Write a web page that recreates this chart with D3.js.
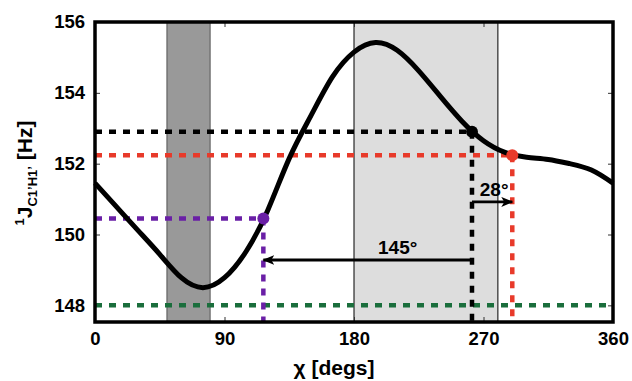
<!DOCTYPE html>
<html>
<head>
<meta charset="utf-8">
<script src="https://cdn.jsdelivr.net/npm/d3@7"></script>
<style>
body{margin:0;background:#fff;}
text{font-family:"Liberation Sans",Arial,sans-serif;font-weight:bold;}
</style>
</head>
<body>
<div class="chart"></div>
<script>
// curve, every 15 degrees
const chi = [0,15,30,45,60,75,90,105,120,135,150,165,180,195,210,225,240,255,270,285,300,315,330,345,360];
const coupling = [151.45,150.78,150.11,149.44,148.78,148.50,148.78,149.52,150.68,152.15,153.35,154.45,155.15,155.42,155.20,154.62,153.90,153.20,152.65,152.32,152.18,152.12,152.00,151.82,151.45];
// shaded regions
const bandStart = [50,180];
const bandEnd = [80,280];
// marked points
const markChi = [117,262,290];
const markJ = [150.45,152.90,152.24];
const greenJ = 148;
// arrows
const arrowFrom = [262,262];
const arrowTo = [117,290];
const arrowJ = [149.28,150.92];
const arrowLabel = ["145°","28°"];
const xTicks = [0,90,180,270,360];
const yTicks = [148,150,152,154,156];

const W = 632, H = 381;
const x = d3.scaleLinear().domain([0,360]).range([95,613]);
const y = d3.scaleLinear().domain([147.53,156]).range([322,22]);
const markColor = ["#6a1fa6","#000000","#e83a2a"];

const svg = d3.select(".chart").append("svg")
  .attr("width",W).attr("height",H);

svg.append("defs").append("marker")
  .attr("id","head")
  .attr("markerUnits","userSpaceOnUse")
  .attr("markerWidth",14).attr("markerHeight",12)
  .attr("refX",11).attr("refY",5)
  .attr("orient","auto")
  .append("path")
  .attr("d","M0,0 L12,5 L0,10 L3,5 Z")
  .attr("fill","#000");

// bands
bandStart.forEach((b,i)=>{
  svg.append("rect")
    .attr("x",x(b)).attr("y",y(156))
    .attr("width",x(bandEnd[i])-x(b))
    .attr("height",y(147.53)-y(156))
    .attr("fill", i==0 ? "#999999" : "#dddddd")
    .attr("stroke", i==0 ? "#555" : "#000")
    .attr("stroke-width",1);
});

// ticks
let yAxis = d3.axisLeft(y).tickValues(yTicks).tickSize(-5).tickPadding(10);
let gy = svg.append("g").attr("transform","translate(95,0)").call(yAxis);
let xAxis = d3.axisBottom(x).tickValues(xTicks).tickSize(-5).tickPadding(10);
let gx = svg.append("g").attr("transform","translate(0,322)").call(xAxis);
svg.append("g").attr("transform","translate(613,0)")
  .call(d3.axisRight(y).tickValues(yTicks).tickSize(-5).tickFormat(""));
svg.append("g").attr("transform","translate(0,22)")
  .call(d3.axisTop(x).tickValues(xTicks).tickSize(-5).tickFormat(""));
svg.selectAll(".domain").remove();
svg.selectAll(".tick line").attr("stroke","#333").attr("stroke-width",1);
svg.selectAll(".tick text").attr("font-size",18.5).attr("fill","#000")
  .style("font-family","Liberation Sans, Arial, sans-serif").style("font-weight","bold");

// dashed guides
const dash = "7,7";
svg.append("line")
  .attr("x1",x(0)).attr("x2",x(360))
  .attr("y1",y(greenJ)).attr("y2",y(greenJ))
  .attr("stroke","#1a6e3c").attr("stroke-width",4.5).attr("stroke-dasharray",dash);
markChi.forEach((c,i)=>{
  svg.append("line")
    .attr("x1",x(0)).attr("x2",x(c))
    .attr("y1",y(markJ[i])).attr("y2",y(markJ[i]))
    .attr("stroke",markColor[i]).attr("stroke-width",4.5).attr("stroke-dasharray",dash);
  svg.append("line")
    .attr("x1",x(c)).attr("x2",x(c))
    .attr("y1",y(markJ[i])).attr("y2",y(147.53))
    .attr("stroke",markColor[i]).attr("stroke-width",4.5).attr("stroke-dasharray",dash);
});

// curve
const line = d3.line()
  .x((d,i)=>x(chi[i])).y(d=>y(d))
  .curve(d3.curveNatural);
svg.append("path")
  .attr("d",line(coupling))
  .attr("fill","none").attr("stroke","#000").attr("stroke-width",5)
  .attr("stroke-linejoin","round");

// points
markChi.forEach((c,i)=>{
  svg.append("circle")
    .attr("cx",x(c)).attr("cy",y(markJ[i])).attr("r",6)
    .attr("fill",markColor[i]);
});

// arrows
arrowFrom.forEach((a,i)=>{
  svg.append("line")
    .attr("x1",x(a)).attr("x2",x(arrowTo[i]))
    .attr("y1",y(arrowJ[i])).attr("y2",y(arrowJ[i]))
    .attr("stroke","#000").attr("stroke-width",2.8)
    .attr("marker-end","url(#head)");
  svg.append("text")
    .attr("x",(x(a)+x(arrowTo[i]))/2 + (i==0 ? 30 : 2))
    .attr("y",y(arrowJ[i]) - 6)
    .attr("text-anchor","middle")
    .attr("font-size",19)
    .text(arrowLabel[i]);
});

// frame
svg.append("rect")
  .attr("x",x(0)).attr("y",y(156))
  .attr("width",x(360)-x(0)).attr("height",y(147.53)-y(156))
  .attr("fill","none").attr("stroke","#000").attr("stroke-width",3.5);

// axis titles
svg.append("text")
  .attr("x",334).attr("y",375)
  .attr("text-anchor","middle").attr("font-size",21)
  .text("χ [degs]");

let yt = svg.append("text")
  .attr("transform","translate(32,173) rotate(-90)")
  .attr("text-anchor","middle").attr("font-size",21);
yt.append("tspan").attr("font-size",13).attr("dy",-8).text("1");
yt.append("tspan").attr("dy",8).text("J");
yt.append("tspan").attr("font-size",13).attr("dy",5).text("C1’H1’");
yt.append("tspan").attr("dy",-5).text(" [Hz]");
</script>
</body>
</html>
